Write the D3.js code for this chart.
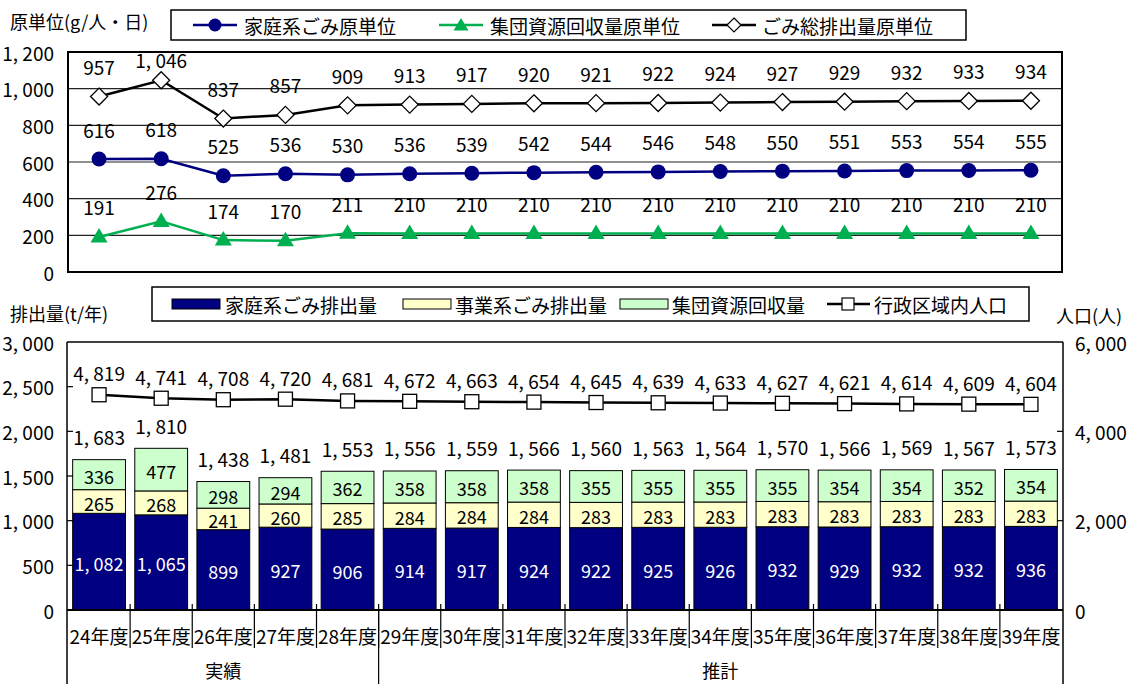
<!DOCTYPE html>
<html>
<head>
<meta charset="utf-8">
<script src="https://cdn.jsdelivr.net/npm/d3@7"></script>
<style>
  html, body { margin: 0; padding: 0; background: #fff; }
  svg { display: block; }
  text { font-family: 'Liberation Sans Narrow', 'Noto Sans CJK JP', sans-serif; font-size: 19px; fill: #000; }
</style>
</head>
<body>
<svg id="chart" width="1132" height="684"></svg>
<script>
// Fiscal years along the shared category axis
const years = ["24年度","25年度","26年度","27年度","28年度","29年度","30年度","31年度",
               "32年度","33年度","34年度","35年度","36年度","37年度","38年度","39年度"];
const groupLabels = ["実績", "推計"];
const groupSizes = [5, 11];

// Per-capita generation (g/person/day)
const householdPerCapita = [616,618,525,536,530,536,539,542,544,546,548,550,551,553,554,555];
const collectionPerCapita = [191,276,174,170,211,210,210,210,210,210,210,210,210,210,210,210];
const totalPerCapita = [957,1046,837,857,909,913,917,920,921,922,924,927,929,932,933,934];

// Annual amounts (t/year)
const householdWaste = [1082,1065,899,927,906,914,917,924,922,925,926,932,929,932,932,936];
const businessWaste = [265,268,241,260,285,284,284,284,283,283,283,283,283,283,283,283];
const groupCollection = [336,477,298,294,362,358,358,358,355,355,355,355,354,354,352,354];
const totalWaste = [1683,1810,1438,1481,1553,1556,1559,1566,1560,1563,1564,1570,1566,1569,1567,1573];

// Population (persons)
const population = [4819,4741,4708,4720,4681,4672,4663,4654,4645,4639,4633,4627,4621,4614,4609,4604];

const topTicks = [0,200,400,600,800,1000,1200];
const leftTicks = [0,500,1000,1500,2000,2500,3000];
const rightTicks = [0,2000,4000,6000];

const NAVY = "#000080", GREEN = "#00B050", YELLOW = "#FFFFCC", LIGHTGREEN = "#CCFFCC";

const fmt = v => d3.format(",")(v).replace(/,/g, ", ");
const svg = d3.select("#chart");

const x = d3.scaleBand().domain(years).range([68, 1062]).padding(0);
const cx = i => x(years[i]) + x.bandwidth() / 2;

/* ---------------- upper chart: per-capita lines ---------------- */
const yTop = d3.scaleLinear().domain([0, 1200]).range([272, 52]);

const upper = svg.append("g");
upper.selectAll("line.grid").data(topTicks.slice(1, -1)).join("line")
  .attr("x1", 68).attr("x2", 1062)
  .attr("y1", d => yTop(d)).attr("y2", d => yTop(d))
  .attr("stroke", "#222").attr("stroke-width", 1.2);
upper.append("rect").attr("x", 68).attr("y", yTop(1200))
  .attr("width", 994).attr("height", yTop(0) - yTop(1200))
  .attr("fill", "none").attr("stroke", "#000").attr("stroke-width", 2);

upper.append("g").selectAll("text").data(topTicks).join("text")
  .attr("x", 54).attr("y", d => yTop(d)).attr("text-anchor", "end")
  .attr("dominant-baseline", "central").text(fmt);

upper.append("text").attr("x", 10).attr("y", 21).attr("dominant-baseline", "central")
  .style("font-size", "18px").text("原単位(g/人・日)");

const lineTop = d3.line().x((d, i) => cx(i)).y(d => yTop(d));

function topLabels(values) {
  upper.append("g").selectAll("text").data(values).join("text")
    .attr("x", (d, i) => cx(i))
    .attr("y", d => Math.max(yTop(d) - 30, 59))
    .attr("text-anchor", "middle").attr("dominant-baseline", "central")
    .text(fmt);
}

// total per capita (diamonds)
upper.append("path").datum(totalPerCapita).attr("d", lineTop)
  .attr("fill", "none").attr("stroke", "#000").attr("stroke-width", 2.5);
upper.append("g").selectAll("path").data(totalPerCapita).join("path")
  .attr("d", "M0,-8.5L8.5,0L0,8.5L-8.5,0Z")
  .attr("transform", (d, i) => `translate(${cx(i)},${yTop(d)})`)
  .attr("fill", "#fff").attr("stroke", "#000").attr("stroke-width", 1.3);
topLabels(totalPerCapita);

// household per capita (circles)
upper.append("path").datum(householdPerCapita).attr("d", lineTop)
  .attr("fill", "none").attr("stroke", NAVY).attr("stroke-width", 2.5);
upper.append("g").selectAll("circle").data(householdPerCapita).join("circle")
  .attr("cx", (d, i) => cx(i)).attr("cy", d => yTop(d)).attr("r", 7.5)
  .attr("fill", NAVY);
topLabels(householdPerCapita);

// group collection per capita (triangles)
upper.append("path").datum(collectionPerCapita).attr("d", lineTop)
  .attr("fill", "none").attr("stroke", GREEN).attr("stroke-width", 2.5);
upper.append("g").selectAll("path").data(collectionPerCapita).join("path")
  .attr("d", "M0,-8L8.5,6.5L-8.5,6.5Z")
  .attr("transform", (d, i) => `translate(${cx(i)},${yTop(d) - 1})`)
  .attr("fill", GREEN);
topLabels(collectionPerCapita);

// upper legend
const lg1 = svg.append("g");
lg1.append("rect").attr("x", 171).attr("y", 10).attr("width", 795).attr("height", 30)
  .attr("fill", "#fff").attr("stroke", "#000").attr("stroke-width", 1.5);
const legTop = [
  { name: "家庭系ごみ原単位", x0: 193, tx: 244, color: NAVY, mark: "circle" },
  { name: "集団資源回収量原単位", x0: 439, tx: 490, color: GREEN, mark: "tri" },
  { name: "ごみ総排出量原単位", x0: 712, tx: 762, color: "#000", mark: "diamond" }
];
legTop.forEach(l => {
  lg1.append("line").attr("x1", l.x0).attr("x2", l.x0 + 44).attr("y1", 25).attr("y2", 25)
    .attr("stroke", l.color).attr("stroke-width", 2.5);
  const mx = l.x0 + 22;
  if (l.mark === "circle") lg1.append("circle").attr("cx", mx).attr("cy", 25).attr("r", 6.5).attr("fill", l.color);
  if (l.mark === "tri") lg1.append("path").attr("d", "M0,-7L7.5,5.5L-7.5,5.5Z")
    .attr("transform", `translate(${mx},25)`).attr("fill", l.color);
  if (l.mark === "diamond") lg1.append("path").attr("d", "M0,-7L7,0L0,7L-7,0Z")
    .attr("transform", `translate(${mx},25)`)
    .attr("fill", "#fff").attr("stroke", "#000").attr("stroke-width", 1.2);
  lg1.append("text").attr("x", l.tx).attr("y", 25).attr("dominant-baseline", "central").text(l.name);
});

/* ---------------- lower chart: stacked bars + population ---------------- */
const yL = d3.scaleLinear().domain([0, 3000]).range([610, 342]);
const yR = d3.scaleLinear().domain([0, 6000]).range([610, 342]);
const lower = svg.append("g");

const barW = x.bandwidth() * 0.85;
const stackData = years.map((y, i) => ({ year: y, h: householdWaste[i], b: businessWaste[i], g: groupCollection[i] }));
const stack = d3.stack().keys(["h", "b", "g"])(stackData);
const fills = { h: NAVY, b: YELLOW, g: LIGHTGREEN };

stack.forEach(layer => {
  lower.append("g").selectAll("rect").data(layer).join("rect")
    .attr("x", d => x(d.data.year) + (x.bandwidth() - barW) / 2)
    .attr("width", barW)
    .attr("y", d => yL(d[1]))
    .attr("height", d => yL(d[0]) - yL(d[1]))
    .attr("fill", fills[layer.key]).attr("stroke", "#000").attr("stroke-width", 1);
  lower.append("g").selectAll("text").data(layer).join("text")
    .attr("x", d => x(d.data.year) + x.bandwidth() / 2)
    .attr("y", d => (yL(d[0]) + yL(d[1])) / 2 + 1)
    .attr("text-anchor", "middle").attr("dominant-baseline", "central")
    .style("font-size", "18px")
    .style("fill", layer.key === "h" ? "#fff" : "#000")
    .text(d => fmt(d.data[layer.key]));
});

lower.append("g").selectAll("text").data(totalWaste).join("text")
  .attr("x", (d, i) => cx(i)).attr("y", d => yL(d) - 23)
  .attr("text-anchor", "middle").attr("dominant-baseline", "central").text(fmt);

// population line
lower.append("path").datum(population)
  .attr("d", d3.line().x((d, i) => cx(i)).y(d => yR(d)))
  .attr("fill", "none").attr("stroke", "#000").attr("stroke-width", 2.5);
lower.append("g").selectAll("rect").data(population).join("rect")
  .attr("x", (d, i) => cx(i) - 7).attr("y", d => yR(d) - 7)
  .attr("width", 14).attr("height", 14)
  .attr("fill", "#fff").attr("stroke", "#000").attr("stroke-width", 1.3);
lower.append("g").selectAll("text").data(population).join("text")
  .attr("x", (d, i) => cx(i)).attr("y", d => yR(d) - 22)
  .attr("text-anchor", "middle").attr("dominant-baseline", "central").text(fmt);

// frame and axes
const ax = svg.append("g").attr("stroke", "#000");
ax.append("line").attr("x1", 67).attr("x2", 1063).attr("y1", 342).attr("y2", 342).attr("stroke-width", 1.5);
ax.append("line").attr("x1", 67).attr("x2", 1063).attr("y1", 610).attr("y2", 610).attr("stroke-width", 2);
ax.append("line").attr("x1", 67).attr("x2", 67).attr("y1", 342).attr("y2", 684).attr("stroke-width", 1.5);
ax.append("line").attr("x1", 1063).attr("x2", 1063).attr("y1", 342).attr("y2", 684).attr("stroke-width", 1.5);
ax.append("g").selectAll("line").data(leftTicks.slice(1, -1)).join("line")
  .attr("x1", 67).attr("x2", 73).attr("y1", d => yL(d)).attr("y2", d => yL(d)).attr("stroke-width", 1.2);
ax.append("g").selectAll("line").data(rightTicks.slice(1, -1)).join("line")
  .attr("x1", 1057).attr("x2", 1063).attr("y1", d => yR(d)).attr("y2", d => yR(d)).attr("stroke-width", 1.2);
// category separators
ax.append("g").selectAll("line").data(years.slice(1)).join("line")
  .attr("x1", d => x(d)).attr("x2", d => x(d)).attr("y1", 604).attr("y2", 648).attr("stroke-width", 1.2);
// group separator
let acc = 0;
const groupBounds = groupSizes.map(n => { const a = acc; acc += n; return [a, acc]; });
groupBounds.slice(1).forEach(([a]) => {
  ax.append("line").attr("x1", x(years[a])).attr("x2", x(years[a])).attr("y1", 610).attr("y2", 684).attr("stroke-width", 1.2);
});

lower.append("g").selectAll("text").data(leftTicks).join("text")
  .attr("x", 54).attr("y", d => yL(d)).attr("text-anchor", "end")
  .attr("dominant-baseline", "central").text(fmt);
lower.append("g").selectAll("text").data(rightTicks).join("text")
  .attr("x", 1075).attr("y", d => yR(d))
  .attr("dominant-baseline", "central").text(fmt);

lower.append("g").selectAll("text").data(years).join("text")
  .attr("x", d => x(d) + x.bandwidth() / 2).attr("y", 635)
  .attr("text-anchor", "middle").attr("dominant-baseline", "central").text(d => d);

lower.append("g").selectAll("text").data(groupLabels).join("text")
  .attr("x", (d, i) => (x(years[groupBounds[i][0]]) + (groupBounds[i][1] < years.length ? x(years[groupBounds[i][1]]) : 1062)) / 2)
  .attr("y", 670).attr("text-anchor", "middle").attr("dominant-baseline", "central")
  .style("font-size", "18px").text(d => d);

svg.append("text").attr("x", 10).attr("y", 313).attr("dominant-baseline", "central")
  .style("font-size", "18px").text("排出量(t/年)");
svg.append("text").attr("x", 1056).attr("y", 315).attr("dominant-baseline", "central")
  .style("font-size", "18px").text("人口(人)");

// lower legend
const lg2 = svg.append("g");
lg2.append("rect").attr("x", 152).attr("y", 287).attr("width", 877).attr("height", 34)
  .attr("fill", "#fff").attr("stroke", "#000").attr("stroke-width", 1.5);
const legBot = [
  { name: "家庭系ごみ排出量", x0: 172, tx: 225, fill: NAVY },
  { name: "事業系ごみ排出量", x0: 403, tx: 455, fill: YELLOW },
  { name: "集団資源回収量", x0: 620, tx: 672, fill: LIGHTGREEN }
];
legBot.forEach(l => {
  lg2.append("rect").attr("x", l.x0).attr("y", 299).attr("width", 48).attr("height", 10)
    .attr("fill", l.fill).attr("stroke", "#000").attr("stroke-width", 1);
  lg2.append("text").attr("x", l.tx).attr("y", 304).attr("dominant-baseline", "central").text(l.name);
});
lg2.append("line").attr("x1", 827).attr("x2", 870).attr("y1", 304).attr("y2", 304)
  .attr("stroke", "#000").attr("stroke-width", 2.5);
lg2.append("rect").attr("x", 842).attr("y", 298).attr("width", 12).attr("height", 12)
  .attr("fill", "#fff").attr("stroke", "#000").attr("stroke-width", 1.2);
lg2.append("text").attr("x", 874).attr("y", 304).attr("dominant-baseline", "central").text("行政区域内人口");
</script>
</body>
</html>
